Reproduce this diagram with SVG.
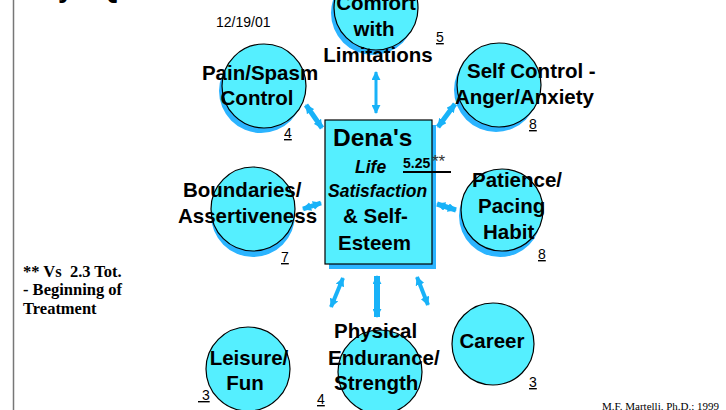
<svg xmlns="http://www.w3.org/2000/svg" width="726" height="410" viewBox="0 0 726 410">
  <style>
    .node { fill: #55EFFF; stroke: #000; stroke-width: 1.2; }
    .shadow { fill: #2BB4FF; }
    .lbl { font-family: "Liberation Sans", Arial, sans-serif; font-weight: bold; font-size: 20.5px; fill: #000; }
    .num { font-family: "Liberation Sans", Arial, sans-serif; font-size: 14px; fill: #000; text-decoration: underline; }
    .link { stroke: #18B2F8; fill: none; }
  </style>
  <defs>
    <marker id="head" viewBox="0 0 10 10" refX="9" refY="5" markerWidth="9" markerHeight="9" markerUnits="userSpaceOnUse" orient="auto-start-reverse">
      <path d="M0,0 L10,5 L0,10 Z" fill="#18B2F8"/>
    </marker>
  </defs>

  <rect width="726" height="410" fill="#fff"/>
  <!-- page margin rule -->
  <line x1="13.5" y1="0" x2="13.5" y2="410" stroke="#777" stroke-width="1.5"/>

  <!-- heading glyphs clipped at the top edge -->
  <g font-family="Liberation Sans, Arial, sans-serif" font-weight="bold" font-size="28" fill="#000">
    <text x="58" y="-3">y</text>
    <text x="86" y="-3">/</text>
    <text x="98" y="-3">Q</text>
  </g>

  <text x="216" y="27" font-family="Liberation Sans, Arial, sans-serif" font-size="14">12/19/01</text>

  <!-- connectors -->
  <g id="connectors" marker-start="url(#head)" marker-end="url(#head)">
    <line class="link" x1="376" y1="72" x2="376" y2="113" stroke-width="3"/>
    <line class="link" x1="306" y1="105" x2="322" y2="128" stroke-width="5"/>
    <line class="link" x1="455" y1="104" x2="438" y2="127" stroke-width="5"/>
    <line class="link" x1="303" y1="209" x2="321" y2="203" stroke-width="5"/>
    <line class="link" x1="437" y1="204" x2="456" y2="210" stroke-width="5"/>
    <line class="link" x1="343" y1="278" x2="331" y2="307" stroke-width="4"/>
    <line class="link" x1="377" y1="276" x2="377" y2="317" stroke-width="6"/>
    <line class="link" x1="417" y1="277" x2="428" y2="305" stroke-width="4"/>
  </g>

  <!-- centre box -->
  <g id="life-satisfaction">
    <rect x="329" y="125" width="107" height="144" class="shadow"/>
    <rect x="325" y="120" width="107" height="144" class="node"/>
    <text x="333" y="146" class="lbl" style="font-size:24.5px">Dena's</text>
    <text x="355" y="173" class="lbl" style="font-size:17.5px;font-style:italic">Life</text>
    <text x="328" y="197" class="lbl" style="font-size:17.5px;font-style:italic">Satisfaction</text>
    <text x="343" y="223" class="lbl">&amp; Self-</text>
    <text x="338" y="250" class="lbl">Esteem</text>
    <text x="403" y="168" font-family="Liberation Sans, Arial, sans-serif" font-weight="bold" font-size="14px">5.25</text>
    <text x="432" y="167" font-family="Liberation Sans, Arial, sans-serif" font-size="17px" fill="#333">**</text>
    <line x1="403" y1="172" x2="451" y2="172" stroke="#000" stroke-width="2"/>
  </g>

  <g id="comfort">
    <circle cx="373" cy="13" r="42" class="shadow"/>
    <circle cx="376" cy="8" r="42" class="node"/>
    <text x="376" y="10" class="lbl" text-anchor="middle">Comfort</text>
    <text x="374" y="36" class="lbl" text-anchor="middle">with</text>
    <text x="378" y="62" class="lbl" text-anchor="middle">Limitations</text>
    <text x="436" y="42" class="num">5</text>
  </g>

  <g id="pain-spasm">
    <circle cx="261" cy="91" r="42" class="shadow"/>
    <circle cx="264" cy="86" r="42" class="node"/>
    <text x="260" y="80" class="lbl" text-anchor="middle">Pain/Spasm</text>
    <text x="257" y="105" class="lbl" text-anchor="middle">Control</text>
    <text x="284" y="138" class="num">4</text>
  </g>

  <g id="self-control">
    <circle cx="496" cy="90" r="42" class="shadow"/>
    <circle cx="499" cy="85" r="42" class="node"/>
    <text x="467" y="78" class="lbl">Self Control -</text>
    <text x="455" y="104" class="lbl">Anger/Anxiety</text>
    <text x="529" y="129" class="num">8</text>
  </g>

  <g id="boundaries">
    <circle cx="253" cy="215" r="42" class="shadow"/>
    <circle cx="253" cy="209" r="42" class="node"/>
    <text x="183" y="197" class="lbl">Boundaries/</text>
    <text x="178" y="223" class="lbl">Assertiveness</text>
    <text x="281" y="262" class="num">7</text>
  </g>

  <g id="patience">
    <circle cx="500" cy="216" r="41" class="shadow"/>
    <circle cx="502" cy="210" r="41" class="node"/>
    <text x="472" y="187" class="lbl">Patience/</text>
    <text x="478" y="213" class="lbl">Pacing</text>
    <text x="483" y="239" class="lbl">Habit</text>
    <text x="538" y="259" class="num">8</text>
  </g>

  <g id="leisure">
    <circle cx="248" cy="369" r="42" class="node"/>
    <text x="249" y="365" class="lbl" text-anchor="middle">Leisure/</text>
    <text x="245" y="390" class="lbl" text-anchor="middle">Fun</text>
    <text x="198" y="400" class="num" xml:space="preserve"> 3</text>
  </g>

  <g id="physical">
    <circle cx="380" cy="372" r="42" class="node"/>
    <text x="334" y="338" class="lbl">Physical</text>
    <text x="328" y="365" class="lbl">Endurance/</text>
    <text x="334" y="390" class="lbl">Strength</text>
    <text x="317" y="404" class="num">4</text>
  </g>

  <g id="career">
    <circle cx="493" cy="344" r="41" class="node"/>
    <text x="492" y="348" class="lbl" text-anchor="middle">Career</text>
    <text x="529" y="387" class="num">3</text>
  </g>

  <!-- footnote -->
  <g font-family="Liberation Serif, 'Times New Roman', serif" font-weight="bold" font-size="16.5px" fill="#000">
    <text x="23" y="277" xml:space="preserve">** Vs  2.3 Tot.</text>
    <text x="23" y="295">- Beginning of</text>
    <text x="23" y="314">Treatment</text>
  </g>

  <text x="602" y="410" font-family="Liberation Serif, 'Times New Roman', serif" font-size="11px" fill="#000">M.F. Martelli, Ph.D.; 1999</text>
</svg>
